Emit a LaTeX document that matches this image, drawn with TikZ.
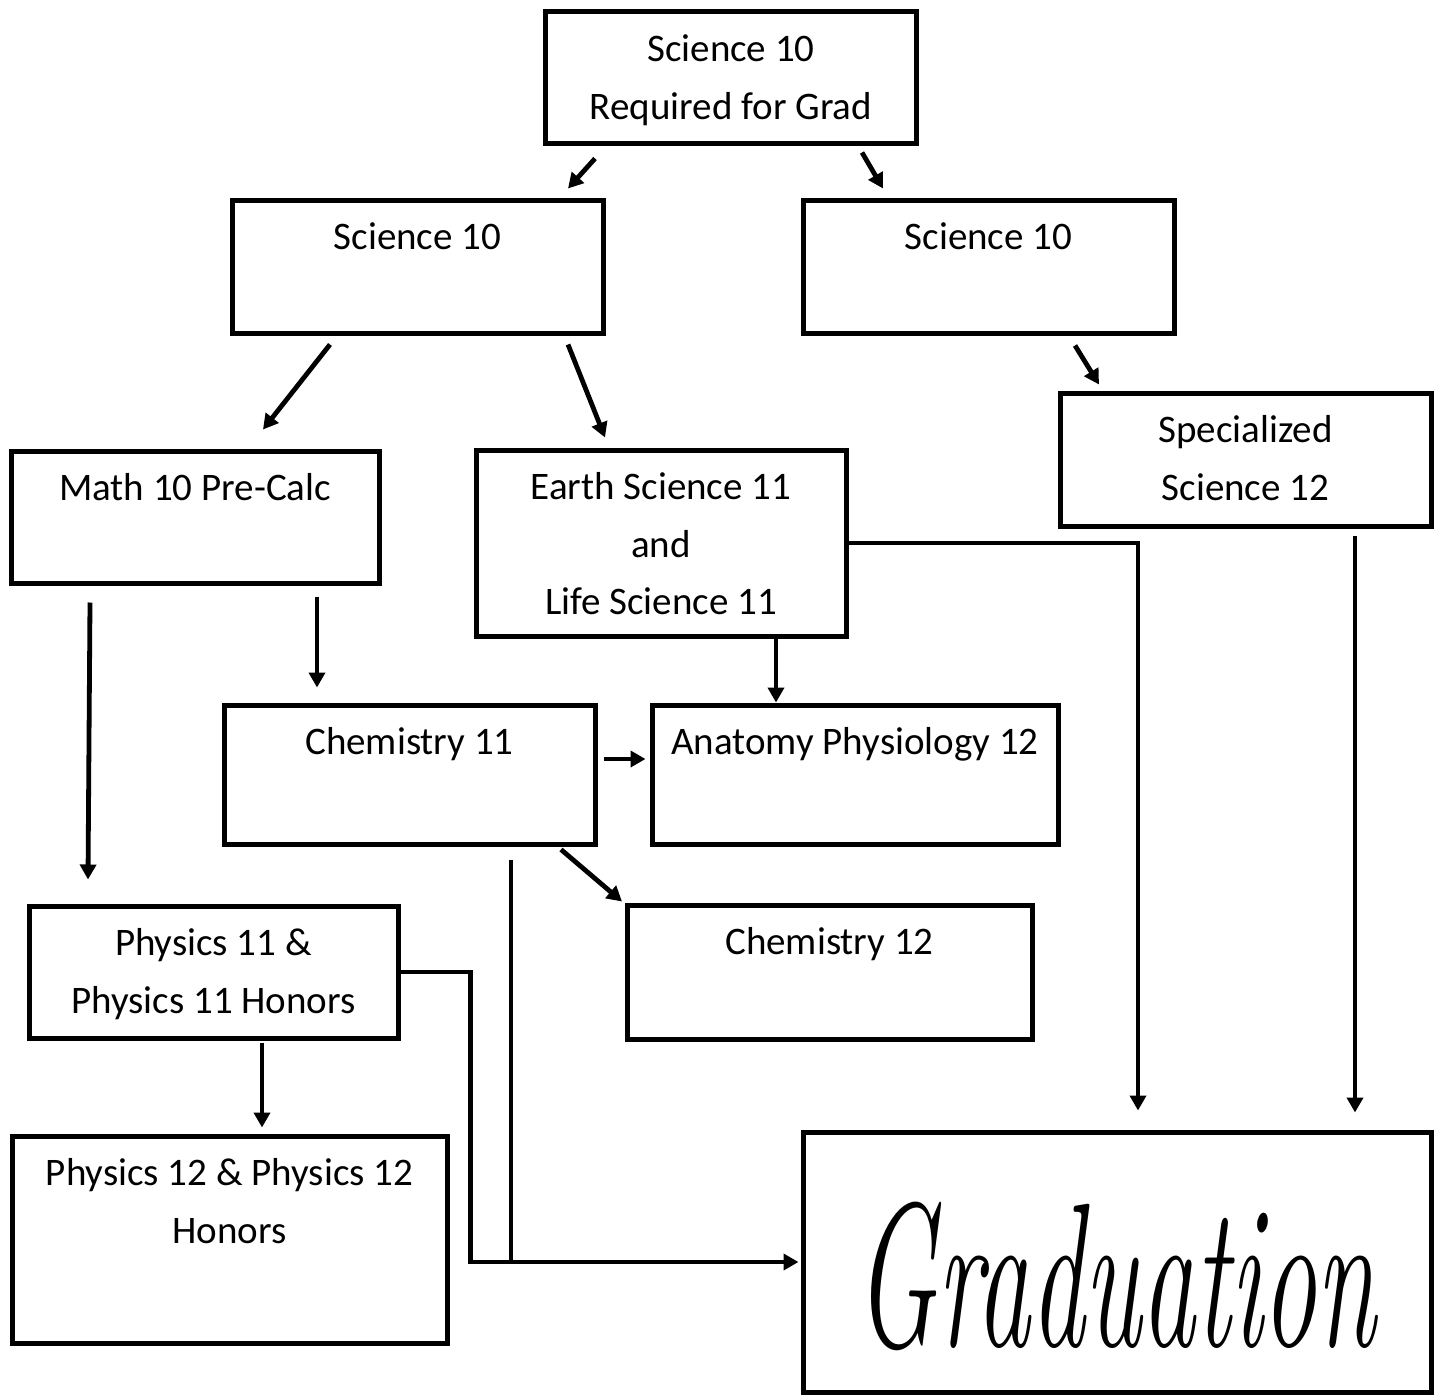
\documentclass[tikz,border=0pt]{standalone}
\usepackage{fontspec}
\usepackage{tikz}
\usetikzlibrary{arrows.meta,calc}
\newfontfamily\bodyfont{Carlito}
\tikzset{
  course/.style={rectangle, draw=black, line width=5pt, fill=white, inner sep=0pt,
    minimum width=371pt, minimum height=133pt},
  lbl/.style={anchor=north, inner sep=0pt, align=center, yshift=-25pt,
    font=\bodyfont\fontsize{39}{57.5}\selectfont},
  flow/.style={-{Triangle[length=15pt, width=16pt]}, draw=black, line width=4.8pt},
  link/.style={draw=black, line width=4.8pt},
}

\begin{document}
\begin{tikzpicture}[x=1pt, y=-1pt]
\useasboundingbox (0,0) rectangle (1440,1397);
% ---- grade 10 ----
\node[course, minimum height=131pt, label={[lbl]north:Science 10\\Required for Grad}] (top) at (731,77.5) {};
\node[course, label={[lbl]north:Science 10}] (sciL) at (417.5,266.5) {};
\node[course, label={[lbl]north:Science 10}] (sciR) at (988.5,266.5) {};
% ---- grade 11 ----
\node[course, minimum width=368pt, minimum height=132pt, label={[lbl]north:Math 10 Pre-Calc}] (math) at (195,517) {};
\node[course, minimum width=370pt, minimum height=186pt, label={[lbl]north:Earth Science 11\\and\\Life Science 11}] (earth) at (661,543) {};
\node[course, label={[lbl]north:Specialized\\Science 12}] (spec) at (1245.5,459.5) {};
\node[course, minimum height=139pt, label={[lbl]north:Chemistry 11}] (chemA) at (409.5,774.5) {};
\node[course, minimum width=406pt, minimum height=139pt, label={[lbl]north:Anatomy Physiology 12}] (anat) at (855,774.5) {};
\node[course, minimum width=405pt, minimum height=134pt, label={[lbl]north:Chemistry 12}] (chemB) at (829.5,972) {};
\node[course, minimum width=369pt, minimum height=132pt, label={[lbl]north:Physics 11 \&\\Physics 11 Honors}] (physA) at (213.5,972) {};
% ---- grade 12 ----
\node[course, minimum width=435pt, minimum height=207pt, label={[lbl]north:Physics 12 \& Physics 12\\Honors}] (physB) at (229.5,1239.5) {};
\node[course, minimum width=628pt, minimum height=260pt] (grad) at (1117,1262) {};
\node[anchor=base, inner sep=0pt, font=\fontsize{108}{120}\selectfont\itshape, yscale=1.9, transform shape] (gradtxt) at (1116,1346) {Graduation};
% ---- arrows ----
\draw[flow] ([xshift=-136pt,yshift=-13pt]top.south) -- ([xshift=150.5pt,yshift=9pt]sciL.north);
\draw[flow] ([xshift=131pt,yshift=-7pt]top.south) -- ([xshift=-105.5pt,yshift=9pt]sciR.north);
\draw[flow] ([xshift=-87.5pt,yshift=-9pt]sciL.south) -- ([xshift=68pt,yshift=19pt]math.north);
\draw[flow] ([xshift=150.5pt,yshift=-9pt]sciL.south) -- ([xshift=-56pt,yshift=10pt]earth.north);
\draw[flow] ([xshift=86.5pt,yshift=-10pt]sciR.south) -- ([xshift=-146.5pt,yshift=6pt]spec.north);
\draw[flow] ([xshift=122pt,yshift=-11pt]math.south) -- ([xshift=-92.5pt,yshift=15pt]chemA.north);
\draw[flow] ([xshift=-105pt,yshift=-17pt]math.south) -- ([xshift=-125.5pt,yshift=24pt]physA.north);
\draw[flow] ([xshift=115pt]earth.south) -- ([xshift=-79pt]anat.north);
\draw[flow] ([xshift=6pt,yshift=15.5pt]chemA.east) -- ([xshift=-4pt,yshift=15.5pt]anat.west);
\draw[flow] ([xshift=151.5pt,yshift=-3pt]chemA.south) -- ([xshift=-207.5pt,yshift=1pt]chemB.north);
\draw[flow] (earth.east) -| ([xshift=21pt,yshift=19pt]grad.north);
\draw[flow] ([xshift=109.5pt,yshift=-7pt]spec.south) -- ([xshift=238pt,yshift=17pt]grad.north);
\draw[flow] ([xshift=48.5pt,yshift=-2pt]physA.south) -- ([xshift=32.5pt,yshift=6pt]physB.north);
% ---- to graduation ----
\coordinate (jn) at ([xshift=101.5pt,yshift=-13pt]chemA.south);
\draw[link] (jn) -- (jn |- grad.west);
\draw[flow] (physA.east) -- ++(70,0) |- ([xshift=-2pt]grad.west);
\end{tikzpicture}
\end{document}
